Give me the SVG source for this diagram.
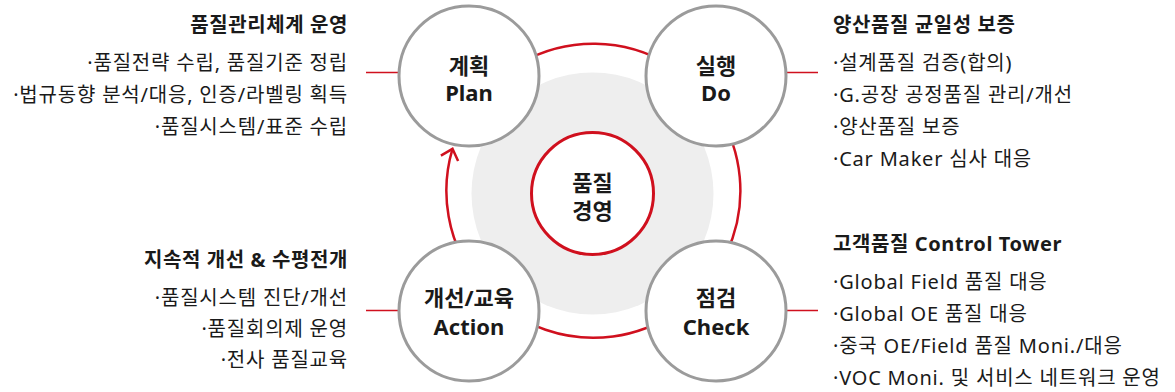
<svg xmlns="http://www.w3.org/2000/svg" width="1175" height="392" viewBox="0 0 1175 392">
<style>
text{font-family:"Noto Sans","Noto Sans CJK KR",sans-serif;fill:#1a1a1a}
.title{font-size:20px;font-weight:700;letter-spacing:0.6px}
.item{font-size:20px;font-weight:400;letter-spacing:0.8px}
.node{font-size:22px;font-weight:700;text-anchor:middle}
.end{text-anchor:end}
.ring{fill:none;stroke:#d0101e;stroke-width:2.5}
.lead{stroke:#d0101e;stroke-width:1.6}
.step{fill:#fff;stroke:#9b9b9b;stroke-width:3}
</style>
<rect width="1175" height="392" fill="#fff"/>
<circle cx="592.5" cy="193.5" r="121" fill="#eeeeee"/>
<g id="connectors">
<path class="ring" d="M 471.1 109.2 A 147 147 0 1 1 452.5 148.8"/>
<polyline class="ring" points="440.9,155.6 452.5,148.8 458.1,161.0" stroke-linejoin="miter"/>
<line class="lead" x1="366" y1="72.5" x2="401" y2="72.5"/>
<line class="lead" x1="366" y1="310.5" x2="401" y2="310.5"/>
<line class="lead" x1="785" y1="72.5" x2="818" y2="72.5"/>
<line class="lead" x1="785" y1="310.5" x2="818" y2="310.5"/>
</g>
<g id="center">
<circle cx="592.5" cy="193.5" r="61" fill="#fff" stroke="#d0101e" stroke-width="3"/>
<text class="node" x="592.5" y="191">품질</text>
<text class="node" x="592.5" y="219">경영</text>
</g>
<g id="plan">
<circle class="step" cx="469" cy="76" r="70"/>
<text class="node" x="469" y="73.5">계획</text>
<text class="node" x="469" y="101">Plan</text>
</g>
<g id="do">
<circle class="step" cx="716" cy="76" r="70"/>
<text class="node" x="716" y="73.5">실행</text>
<text class="node" x="716" y="101">Do</text>
</g>
<g id="check">
<circle class="step" cx="716" cy="311" r="70"/>
<text class="node" x="716" y="306">점검</text>
<text class="node" x="716" y="335">Check</text>
</g>
<g id="action">
<circle class="step" cx="469" cy="311" r="70"/>
<text class="node" x="469" y="306">개선/교육</text>
<text class="node" x="469" y="335">Action</text>
</g>
<g id="plan-text">
<text class="title end" x="348" y="32">품질관리체계 운영</text>
<text class="item end" x="348" y="70">·품질전략 수립, 품질기준 정립</text>
<text class="item end" x="348" y="102">·법규동향 분석/대응, 인증/라벨링 획득</text>
<text class="item end" x="348" y="134">·품질시스템/표준 수립</text>
</g>
<g id="do-text">
<text class="title" x="833" y="32">양산품질 균일성 보증</text>
<text class="item" x="833" y="70">·설계품질 검증(합의)</text>
<text class="item" x="833" y="102">·G.공장 공정품질 관리/개선</text>
<text class="item" x="833" y="134">·양산품질 보증</text>
<text class="item" x="833" y="166">·Car Maker 심사 대응</text>
</g>
<g id="action-text">
<text class="title end" x="348" y="267">지속적 개선 &amp; 수평전개</text>
<text class="item end" x="348" y="304.5">·품질시스템 진단/개선</text>
<text class="item end" x="348" y="336">·품질회의제 운영</text>
<text class="item end" x="348" y="367">·전사 품질교육</text>
</g>
<g id="check-text">
<text class="title" x="833" y="251">고객품질 Control Tower</text>
<text class="item" x="833" y="288.5">·Global Field 품질 대응</text>
<text class="item" x="833" y="320.5">·Global OE 품질 대응</text>
<text class="item" x="833" y="352.5">·중국 OE/Field 품질 Moni./대응</text>
<text class="item" x="833" y="384.5">·VOC Moni. 및 서비스 네트워크 운영</text>
</g>
</svg>
